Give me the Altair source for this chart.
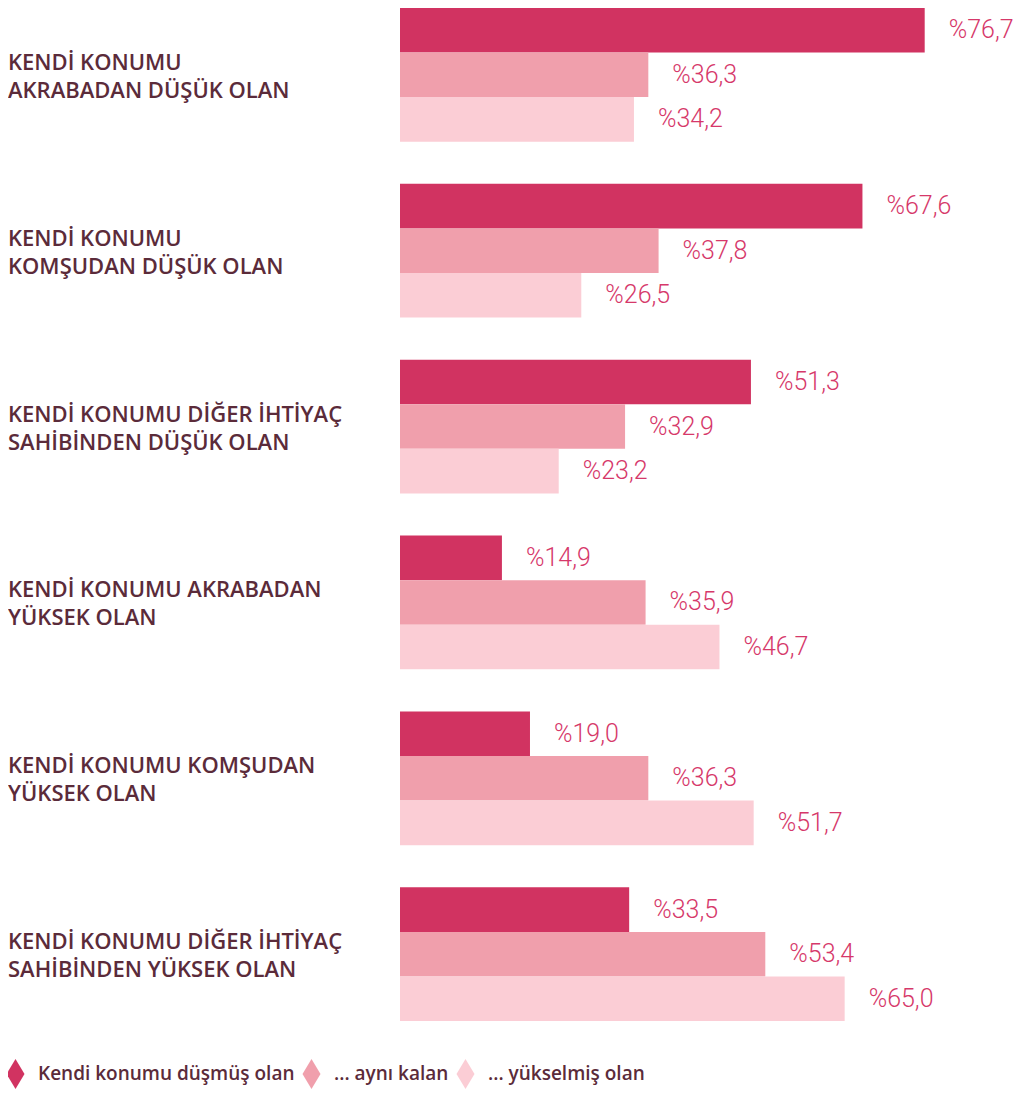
import altair as alt
import pandas as pd

categories = [
    "KENDİ KONUMU|AKRABADAN DÜŞÜK OLAN",
    "KENDİ KONUMU|KOMŞUDAN DÜŞÜK OLAN",
    "KENDİ KONUMU DİĞER İHTİYAÇ|SAHİBİNDEN DÜŞÜK OLAN",
    "KENDİ KONUMU AKRABADAN|YÜKSEK OLAN",
    "KENDİ KONUMU KOMŞUDAN|YÜKSEK OLAN",
    "KENDİ KONUMU DİĞER İHTİYAÇ|SAHİBİNDEN YÜKSEK OLAN",
]
series = ["Kendi konumu düşmüş olan", "... aynı kalan", "... yükselmiş olan"]
dusmus = [76.7, 67.6, 51.3, 14.9, 19.0, 33.5]
ayni = [36.3, 37.8, 32.9, 35.9, 36.3, 53.4]
yukselmis = [34.2, 26.5, 23.2, 46.7, 51.7, 65.0]
colors = ["#D13361", "#F09FAC", "#FBCDD5"]

rows = []
for i, c in enumerate(categories):
    for s, vals in zip(series, [dusmus, ayni, yukselmis]):
        rows.append({"cat": c, "series": s, "value": vals[i]})
df = pd.DataFrame(rows)
cat_df = pd.DataFrame({"cat": categories})

TEXT_COLOR = "#5B2B3A"
VALUE_COLOR = "#D6386A"

y = alt.Y("cat:N", sort=categories, axis=None,
          scale=alt.Scale(paddingInner=0.24, paddingOuter=0))
yoff = alt.YOffset("series:N", sort=series,
                   scale=alt.Scale(paddingInner=0, paddingOuter=0))
x = alt.X("value:Q", axis=None,
          scale=alt.Scale(domain=[0, 88], nice=False, zero=True))
color = alt.Color(
    "series:N", sort=series,
    scale=alt.Scale(domain=series, range=colors),
    legend=alt.Legend(
        orient="none", legendX=-392, legendY=1051, direction="horizontal",
        title=None,
        symbolType="M-0.5,-1L0.1,0L-0.5,1L-1.1,0Z",
        symbolSize=900, symbolStrokeWidth=0, symbolOpacity=1,
        labelFont="Open Sans", labelFontSize=19, labelFontWeight=600,
        labelColor=TEXT_COLOR, labelOffset=0, columnPadding=7,
        labelLimit=400,
    ),
)

bars = alt.Chart(df).mark_bar().encode(x=x, y=y, yOffset=yoff, color=color)

values = alt.Chart(df).transform_calculate(
    lab="'%' + replace(format(datum.value, '.1f'), '.', ',')"
).mark_text(
    align="left", baseline="middle", dx=24,
    font="Roboto", fontWeight=300, fontSize=25, color=VALUE_COLOR,
).encode(x=x, y=y, yOffset=yoff, text="lab:N")

cat_text = alt.Chart(cat_df).mark_text(
    align="left", baseline="middle", lineBreak="|", lineHeight=28, dy=-12,
    font="Open Sans", fontWeight=600, fontSize=22, color=TEXT_COLOR,
).encode(x=alt.value(-392), y=y, text="cat:N")

chart = alt.layer(bars, values, cat_text).properties(
    width=602, height=1013,
    padding={"top": 0, "left": 0, "right": 0, "bottom": 0},
).configure_view(stroke=None)

chart.save("out.html", embed_options={"renderer": "svg", "actions": False})
